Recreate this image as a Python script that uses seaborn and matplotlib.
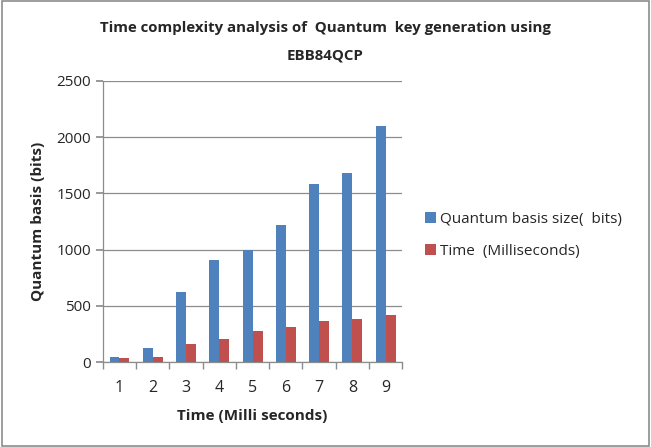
import pandas as pd
import numpy as np
import matplotlib.pyplot as plt
import seaborn as sns

# data
categories = ['1', '2', '3', '4', '5', '6', '7', '8', '9']
basis_size = [45, 125, 625, 910, 1000, 1220, 1580, 1680, 2100]
time_ms = [36, 44, 160, 205, 278, 310, 367, 385, 418]
series_names = ['Quantum basis size(  bits)', 'Time  (Milliseconds)']

df = pd.DataFrame({
    'x': categories * 2,
    'value': basis_size + time_ms,
    'series': [series_names[0]] * 9 + [series_names[1]] * 9,
})

sns.set_theme(style='white')
plt.rcParams['font.family'] = ['Open Sans', 'DejaVu Sans']

fig = plt.figure(figsize=(6.51, 4.47), dpi=100)
ax = fig.add_axes([0.158, 0.19, 0.46, 0.629])

palette = {series_names[0]: '#4F81BD', series_names[1]: '#C0504D'}
sns.barplot(data=df, x='x', y='value', hue='series', palette=palette,
            width=0.6, gap=0, saturation=1, linewidth=0, ax=ax, zorder=3)

ax.set_ylim(0, 2500)
ax.set_yticks(np.arange(0, 2501, 500))
ax.set_xlim(-0.5, 8.5)
ax.yaxis.grid(True, color='#8c8c8c', linewidth=0.9, zorder=0)
ax.set_axisbelow(True)
for s in ['top', 'right']:
    ax.spines[s].set_visible(False)
for s in ['left', 'bottom']:
    ax.spines[s].set_color('#8c8c8c')
    ax.spines[s].set_linewidth(0.9)

# excel style ticks between categories
ax.set_xticks(np.arange(9))
ax.set_xticklabels(categories)
ax.tick_params(axis='x', length=0, labelsize=11.5, pad=13)
ax.set_xticks(np.arange(-0.5, 9.0, 1), minor=True)
ax.tick_params(axis='x', which='minor', length=5, color='#8c8c8c', direction='out', bottom=True)
ax.tick_params(axis='y', length=5, color='#8c8c8c', direction='out', left=True, labelsize=11)

ax.set_xlabel('Time (Milli seconds)', fontsize=11, fontweight='bold', labelpad=9)
ax.set_ylabel('Quantum basis (bits)', fontsize=11, fontweight='bold', labelpad=8)

fig.suptitle('Time complexity analysis of  Quantum  key generation using\nEBB84QCP',
             fontsize=10.8, fontweight='bold', y=0.952, x=0.5, linespacing=2.15)

ax.legend(loc='center left', bbox_to_anchor=(1.03, 0.45), frameon=False,
          fontsize=11, handlelength=0.7, handleheight=0.7, handletextpad=0.3,
          labelspacing=1.1)

# outer border like the original chart area
fig.patches.append(plt.Rectangle((0.003, 0.003), 0.994, 0.994, transform=fig.transFigure,
                                 fill=False, edgecolor='#8c8c8c', linewidth=1.2))

plt.savefig('out.png', dpi=100)
